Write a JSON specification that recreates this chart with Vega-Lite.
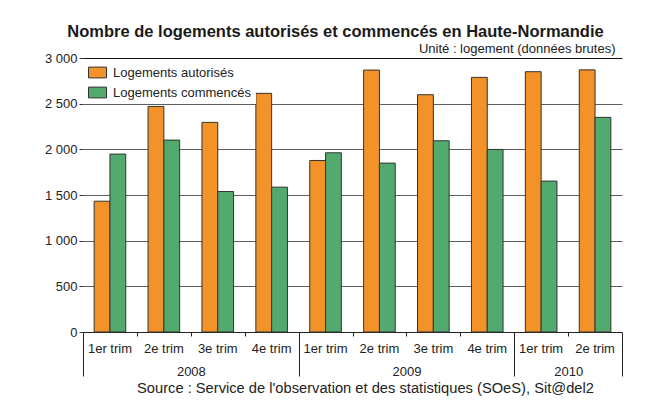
{
  "$schema": "https://vega.github.io/schema/vega-lite/v6.json",
  "width": 539,
  "height": 274,
  "autosize": {"type": "none"},
  "padding": {"left": 83, "top": 58, "right": 26, "bottom": 71},
  "background": "white",
  "config": {
    "view": {"stroke": null},
    "font": "Liberation Sans, Arial, sans-serif"
  },
  "title": {
    "text": "Nombre de logements autorisés et commencés en Haute-Normandie",
    "fontSize": 16.5,
    "fontWeight": "bold",
    "color": "#1a1a1a",
    "anchor": "middle",
    "frame": "group",
    "dx": -17,
    "offset": 2
  },
  "data": {
    "values": [
      {"periode": "2008|1er trim", "serie": "Logements autorisés", "valeur": 1432},
      {"periode": "2008|1er trim", "serie": "Logements commencés", "valeur": 1948},
      {"periode": "2008|2e trim", "serie": "Logements autorisés", "valeur": 2470},
      {"periode": "2008|2e trim", "serie": "Logements commencés", "valeur": 2101},
      {"periode": "2008|3e trim", "serie": "Logements autorisés", "valeur": 2295},
      {"periode": "2008|3e trim", "serie": "Logements commencés", "valeur": 1538},
      {"periode": "2008|4e trim", "serie": "Logements autorisés", "valeur": 2613},
      {"periode": "2008|4e trim", "serie": "Logements commencés", "valeur": 1586},
      {"periode": "2009|1er trim", "serie": "Logements autorisés", "valeur": 1878},
      {"periode": "2009|1er trim", "serie": "Logements commencés", "valeur": 1962},
      {"periode": "2009|2e trim", "serie": "Logements autorisés", "valeur": 2868},
      {"periode": "2009|2e trim", "serie": "Logements commencés", "valeur": 1849},
      {"periode": "2009|3e trim", "serie": "Logements autorisés", "valeur": 2598},
      {"periode": "2009|3e trim", "serie": "Logements commencés", "valeur": 2094},
      {"periode": "2009|4e trim", "serie": "Logements autorisés", "valeur": 2788},
      {"periode": "2009|4e trim", "serie": "Logements commencés", "valeur": 1999},
      {"periode": "2010|1er trim", "serie": "Logements autorisés", "valeur": 2850},
      {"periode": "2010|1er trim", "serie": "Logements commencés", "valeur": 1652},
      {"periode": "2010|2e trim", "serie": "Logements autorisés", "valeur": 2870},
      {"periode": "2010|2e trim", "serie": "Logements commencés", "valeur": 2350}
    ]
  },
  "layer": [
    {
      "mark": {"type": "bar", "stroke": "#333333", "strokeWidth": 1},
      "encoding": {
        "x": {
          "field": "periode",
          "type": "nominal",
          "sort": null,
          "scale": {"paddingInner": 0, "paddingOuter": 0},
          "axis": {
            "orient": "bottom",
            "title": null,
            "labelExpr": "split(datum.value, '|')[1]",
            "ticks": false,
            "tickSize": 0,
            "domain": true,
            "domainColor": "#222222",
            "domainWidth": 1,
            "grid": false,
            "labelAngle": 0,
            "labelFontSize": 13,
            "labelColor": "#222222",
            "labelBaseline": "alphabetic",
            "labelPadding": 20,
            "labelOverlap": false
          }
        },
        "xOffset": {
          "field": "serie",
          "type": "nominal",
          "sort": ["Logements autorisés", "Logements commencés"],
          "scale": {"paddingInner": 0, "paddingOuter": 0.706}
        },
        "y": {
          "field": "valeur",
          "type": "quantitative",
          "scale": {"domain": [0, 3000], "nice": false},
          "axis": {
            "title": "Unité : logement (données brutes)",
            "titleAngle": 0,
            "titleAlign": "right",
            "titleBaseline": "alphabetic",
            "titleX": 532,
            "titleY": -6,
            "titleFontSize": 13,
            "titleFontWeight": "normal",
            "titleColor": "#222222",
            "values": [0, 500, 1000, 1500, 2000, 2500, 3000],
            "labelExpr": "replace(format(datum.value, ','), ',', ' ')",
            "domain": false,
            "grid": true,
            "gridColor": {"condition": {"test": "datum.value == 3000", "value": "#111111"}, "value": "#5e5e5e"},
            "tickColor": "#333333",
            "tickSize": 4,
            "labelPadding": 2,
            "labelFontSize": 13,
            "labelColor": "#222222"
          }
        },
        "fill": {
          "field": "serie",
          "type": "nominal",
          "scale": {"domain": ["Logements autorisés", "Logements commencés"], "range": ["#f39229", "#52aa6e"]},
          "legend": {
            "title": null,
            "orient": "top-left",
            "offset": 1,
            "fillColor": "white",
            "padding": 4,
            "symbolType": "M-1,-0.6H1V0.6H-1Z",
            "symbolSize": 324,
            "symbolStrokeColor": "#333333",
            "symbolStrokeWidth": 1,
            "symbolOpacity": 1,
            "labelFontSize": 13,
            "labelColor": "#222222",
            "labelOffset": 6,
            "labelLimit": 300,
            "rowPadding": 3
          }
        }
      }
    },
    {
      "mark": {"type": "rule", "strokeOpacity": 0},
      "encoding": {
        "x": {
          "field": "periode",
          "type": "nominal",
          "sort": null,
          "scale": {"paddingInner": 0, "paddingOuter": 0},
          "axis": {
            "orient": "bottom",
            "title": "Source : Service de l'observation et des statistiques (SOeS), Sit@del2",
            "titleFontSize": 14.7,
            "titleFontWeight": "normal",
            "titleColor": "#222222",
            "titleX": 282,
            "titleY": 60,
            "titleAlign": "center",
            "titleBaseline": "alphabetic",
            "domain": false,
            "grid": false,
            "tickBand": "extent",
            "tickColor": "#222222",
            "tickWidth": 1,
            "tickSize": {"condition": {"test": "!isValid(datum.value) || indexof(['2008|4e trim', '2009|4e trim', '2010|2e trim'], datum.value) >= 0", "value": 44}, "value": 4},
            "labelExpr": "indexof(['2008|2e trim', '2009|2e trim', '2010|1er trim'], datum.value) >= 0 ? split(datum.value, '|')[0] : ''",
            "labelOffset": 27,
            "labelPadding": 39,
            "labelBaseline": "alphabetic",
            "labelAngle": 0,
            "labelFontSize": 13,
            "labelColor": "#222222",
            "labelOverlap": false,
            "labelBound": false
          }
        }
      }
    }
  ],
  "resolve": {"scale": {"x": "independent"}, "axis": {"x": "independent"}}
}
